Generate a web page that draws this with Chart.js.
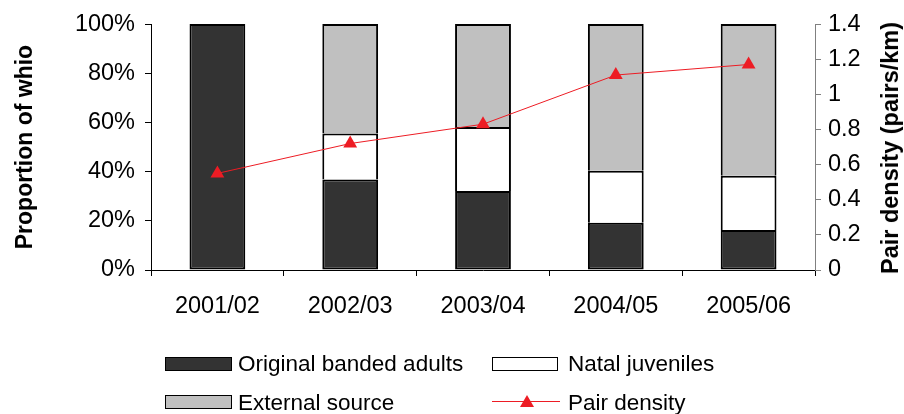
<!DOCTYPE html>
<html><head><meta charset="utf-8">
<script src="https://cdn.jsdelivr.net/npm/chart.js@4"></script>
<style>
html,body{margin:0;padding:0;background:#fff;}
#wrap{position:relative;width:904px;height:414px;overflow:hidden;font-family:'Liberation Sans',Arial,sans-serif;}
#c{position:absolute;left:0;top:0;width:904px;height:414px;}
.lg{position:absolute;font-size:22.5px;line-height:26px;color:#000;white-space:nowrap;}
.bx{position:absolute;box-sizing:border-box;border:1.5px solid #000;}
#rtitle{position:absolute;font-size:23.5px;font-weight:bold;line-height:26px;white-space:nowrap;transform:translate(-50%,-50%) rotate(-90deg);}
</style></head>
<body>
<div id="wrap">
<canvas id="c" width="904" height="414"></canvas>
<div id="rtitle" style="left:890px;top:148px;">Pair density (pairs/km)</div>
<div class="bx" style="left:165px;top:357px;width:67px;height:14px;background:#333333;"></div>
<div class="lg" style="left:238px;top:351px;">Original banded adults</div>
<div class="bx" style="left:492px;top:357px;width:66px;height:14px;background:#ffffff;"></div>
<div class="lg" style="left:568px;top:351px;">Natal juveniles</div>
<div class="bx" style="left:165px;top:395px;width:67px;height:14px;background:#c0c0c0;"></div>
<div class="lg" style="left:238px;top:390px;">External source</div>
<div style="position:absolute;left:492px;top:401px;width:68px;height:1px;background:#ed1c24;"></div>
<div style="position:absolute;left:520px;top:395px;width:14px;height:12px;background:#ed1c24;clip-path:polygon(50% 0,100% 100%,0 100%);"></div>
<div class="lg" style="left:568px;top:390px;">Pair density</div>
</div>
<script>
const categories = ['2001/02', '2002/03', '2003/04', '2004/05', '2005/06'];
const originalBandedAdults = [100, 36.8, 32.1, 19.2, 16.3];
const natalJuveniles = [0, 18.7, 26.1, 21.2, 22.0];
const externalSource = [0, 44.5, 41.8, 59.6, 61.7];
const pairDensity = [0.55, 0.72, 0.83, 1.11, 1.17];

const FONT = "'Liberation Sans', Arial, sans-serif";
Chart.defaults.font.family = FONT;
Chart.defaults.color = '#000';

new Chart(document.getElementById('c'), {
  type: 'bar',
  data: {
    labels: categories,
    datasets: [
      {type: 'line', label: 'Pair density', data: pairDensity, yAxisID: 'y1',
       borderColor: '#ed1c24', borderWidth: 1, tension: 0,
       pointStyle: 'triangle', pointRadius: 8, pointBackgroundColor: '#ed1c24',
       pointBorderColor: '#ed1c24', pointBorderWidth: 0, order: 0},
      {label: 'Original banded adults', data: originalBandedAdults, backgroundColor: '#333333',
       borderColor: '#000', borderWidth: 2, borderSkipped: false, inflateAmount: 0, stack: 's', yAxisID: 'y', order: 1},
      {label: 'Natal juveniles', data: natalJuveniles, backgroundColor: '#ffffff',
       borderColor: '#000', borderWidth: 2, borderSkipped: 'bottom', inflateAmount: 0, stack: 's', yAxisID: 'y', order: 1},
      {label: 'External source', data: externalSource, backgroundColor: '#c0c0c0',
       borderColor: '#000', borderWidth: 2, borderSkipped: 'bottom', inflateAmount: 0, stack: 's', yAxisID: 'y', order: 1}
    ]
  },
  options: {
    responsive: false, animation: false, devicePixelRatio: 1,
    layout: {padding: {top: 23, bottom: 100, left: 0, right: 0}},
    plugins: {legend: {display: false}, tooltip: {enabled: false}},
    datasets: {bar: {barPercentage: 0.42, categoryPercentage: 1}},
    scales: {
      x: {
        stacked: true, offset: true,
        grid: {display: true, drawOnChartArea: false, drawTicks: true, tickLength: 6, color: '#000', offset: true},
        border: {display: true, color: '#000', width: 1},
        ticks: {color: '#000', font: {size: 23.5}, padding: 16, maxRotation: 0, autoSkip: false},
        afterFit(s) { s.height = 44; }
      },
      y: {
        stacked: true, position: 'left', min: 0, max: 100,
        grid: {display: true, drawOnChartArea: false, drawTicks: true, tickLength: 6, color: '#000'},
        border: {display: true, color: '#000', width: 1},
        ticks: {stepSize: 20, color: '#000', font: {size: 23.5}, padding: 10, callback: v => v + '%'},
        title: {display: true, text: 'Proportion of whio', color: '#000', font: {size: 23, weight: 'bold'}, padding: {top: 12, bottom: 0}},
        afterFit(s) { s.width = 151; }
      },
      y1: {
        position: 'right', min: 0, max: 1.4,
        grid: {display: true, drawOnChartArea: false, drawTicks: true, tickLength: 6, color: '#808080'},
        border: {display: true, color: '#808080', width: 1},
        ticks: {stepSize: 0.2, color: '#000', font: {size: 23.5}, padding: 7, callback: v => String(+v.toFixed(1))},
        afterFit(s) { s.width = 89; }
      }
    }
  }
});
</script>
</body></html>
